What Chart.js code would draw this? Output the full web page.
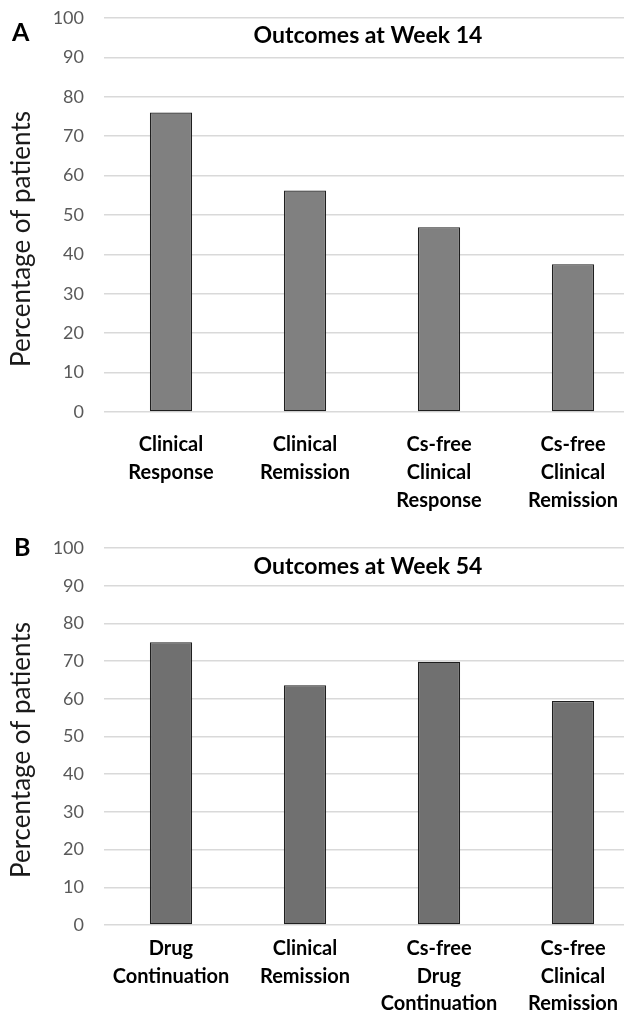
<!DOCTYPE html>
<html>
<head>
<meta charset="utf-8">
<script src="https://cdn.jsdelivr.net/npm/chart.js@4.4.1/dist/chart.umd.min.js"></script>
<style>
  html, body { margin: 0; padding: 0; background: #fff; overflow: hidden; width: 624px; height: 1013px; }
  .panel { position: absolute; left: 0; }
  #panelA { top: 0; }
  #panelB { top: 530px; }
</style>
</head>
<body>
<div class="panel" id="panelA"><canvas id="chartA" width="640" height="515"></canvas></div>
<div class="panel" id="panelB"><canvas id="chartB" width="640" height="483"></canvas></div>
<script>
// Outcomes at week 14
const week14Categories = [
  ["Clinical", "Response"],
  ["Clinical", "Remission"],
  ["Cs-free", "Clinical", "Response"],
  ["Cs-free", "Clinical", "Remission"]
];
const week14Percent = [76.0, 56.2, 46.9, 37.5];

// Outcomes at week 54
const week54Categories = [
  ["Drug", "Continuation"],
  ["Clinical", "Remission"],
  ["Cs-free", "Drug", "Continuation"],
  ["Cs-free", "Clinical", "Remission"]
];
const week54Percent = [75.0, 63.6, 69.8, 59.4];

// Shared y axis
const yMin = 0;
const yMax = 100;
const yStep = 10;
const yAxisTitle = "Percentage of patients";

Chart.defaults.font.family = "Lato, 'Open Sans', sans-serif";

// Panel letter, chart title and rotated axis title
const panelDecor = {
  id: 'panelDecor',
  afterDraw(chart, args, o) {
    const ctx = chart.ctx;
    ctx.save();
    ctx.textBaseline = 'middle';
    ctx.fillStyle = '#000';
    ctx.textAlign = 'left';
    ctx.font = "bold 25px Lato";
    ctx.fillText(o.letter, o.letterX, o.letterY);
    ctx.textAlign = 'center';
    ctx.font = "bold 23px Lato";
    ctx.fillText(o.title, o.titleX, o.titleY);
    ctx.translate(o.axisX, o.axisY);
    ctx.rotate(-Math.PI / 2);
    ctx.font = "26px Lato";
    ctx.fillStyle = '#1a1a1a';
    ctx.fillText(o.axisTitle, 0, 0);
    ctx.restore();
  }
};

function makeChart(id, categories, values, cfg) {
  return new Chart(document.getElementById(id), {
    type: 'bar',
    data: {
      labels: categories,
      datasets: [{
        data: values,
        backgroundColor: cfg.fill,
        borderColor: '#1f1f1f',
        borderWidth: 1.2,
        borderSkipped: false,
        categoryPercentage: 1,
        barPercentage: 0.315
      }]
    },
    options: {
      responsive: false,
      animation: false,
      devicePixelRatio: 1,
      layout: { padding: { top: 18, left: 0, right: 0, bottom: 0 } },
      plugins: {
        legend: { display: false },
        tooltip: { enabled: false },
        panelDecor: {
          letter: cfg.letter, letterX: cfg.letterX, letterY: cfg.letterY,
          title: cfg.title, titleX: 368, titleY: cfg.titleY,
          axisTitle: yAxisTitle, axisX: 22, axisY: cfg.axisY
        }
      },
      scales: {
        x: {
          grid: { display: false, drawTicks: false },
          border: { display: false },
          ticks: {
            color: '#000',
            padding: cfg.labelPad,
            maxRotation: 0,
            autoSkip: false,
            font: { size: 20, weight: 'bold', lineHeight: cfg.labelLine }
          },
          afterFit(scale) { scale.height = cfg.xHeight; }
        },
        y: {
          min: yMin,
          max: yMax,
          ticks: {
            stepSize: yStep,
            color: '#595959',
            padding: 20,
            font: { size: 18 }
          },
          grid: { color: '#d9d9d9', lineWidth: 1.6, drawTicks: false },
          border: { display: false },
          afterFit(scale) {
            scale.width = 104;
            scale.paddingTop = 0;
            scale.paddingBottom = 0;
          }
        }
      }
    },
    plugins: [panelDecor]
  });
}

makeChart('chartA', week14Categories, week14Percent, {
  fill: '#808080', letter: 'A', letterX: 12, letterY: 33,
  title: 'Outcomes at Week 14', titleY: 36, axisY: 239,
  labelPad: 19, labelLine: '28px', xHeight: 103
});

makeChart('chartB', week54Categories, week54Percent, {
  fill: '#707070', letter: 'B', letterX: 14, letterY: 18,
  title: 'Outcomes at Week 54', titleY: 37, axisY: 220,
  labelPad: 10, labelLine: '27.5px', xHeight: 88
});
</script>
</body>
</html>
